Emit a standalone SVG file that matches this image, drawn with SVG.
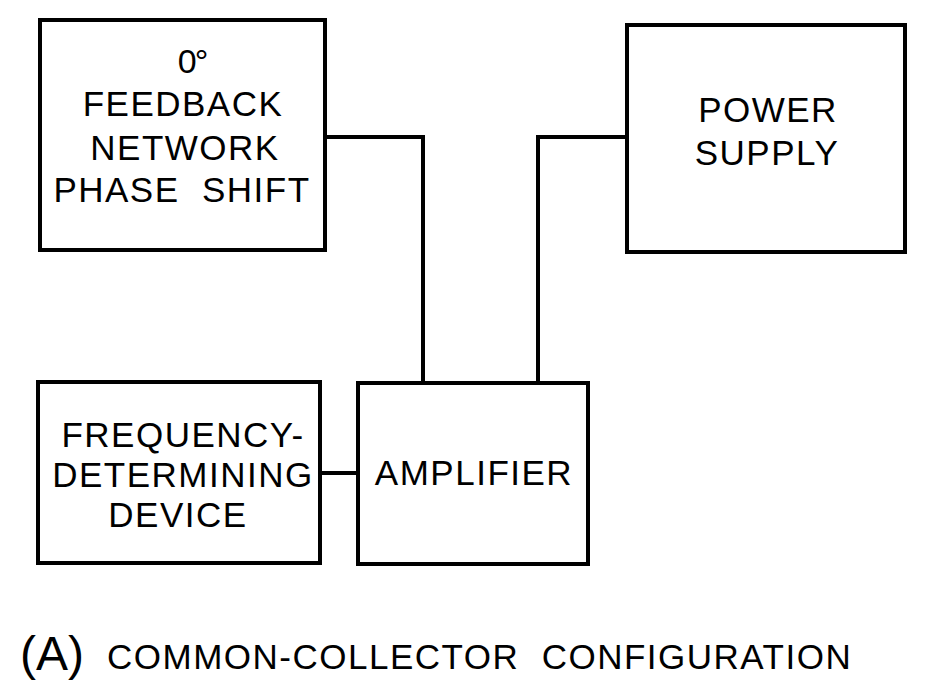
<svg xmlns="http://www.w3.org/2000/svg" width="932" height="694" viewBox="0 0 932 694">
<style>
.box{fill:#fff;stroke:#000;stroke-width:4}
.wire{fill:none;stroke:#000;stroke-width:4;stroke-linejoin:miter}
text{font-family:"Liberation Sans",Arial,sans-serif;fill:#000;text-anchor:middle}
.lbl{font-size:35px;letter-spacing:1.5px}
</style>
<rect width="932" height="694" fill="#fff"/>
<g id="connectors">
<polyline class="wire" points="325,137 423,137 423,383"/>
<polyline class="wire" points="627,137 538,137 538,383"/>
<line class="wire" x1="320" y1="473" x2="358" y2="473"/>
</g>
<g id="feedback">
<rect class="box" x="40" y="20" width="285" height="230"/>
<text x="192" y="73" style="font-size:34px;letter-spacing:-2px">0°</text>
<text class="lbl" x="183" y="116">FEEDBACK</text>
<text class="lbl" x="185" y="160">NETWORK</text>
<text class="lbl" x="182" y="202" xml:space="preserve">PHASE  SHIFT</text>
</g>
<g id="power">
<rect class="box" x="627" y="25" width="278" height="227"/>
<text class="lbl" x="768" y="122">POWER</text>
<text class="lbl" x="767" y="165">SUPPLY</text>
</g>
<g id="frequency">
<rect class="box" x="38" y="382" width="282" height="181"/>
<text class="lbl" x="183" y="447">FREQUENCY-</text>
<text class="lbl" x="183" y="487">DETERMINING</text>
<text class="lbl" x="178" y="527">DEVICE</text>
</g>
<g id="amplifier">
<rect class="box" x="358" y="383" width="230" height="181"/>
<text class="lbl" x="474" y="485">AMPLIFIER</text>
</g>
<g id="caption">
<text x="52" y="670" style="font-size:48px">(A)</text>
<text x="107" y="669" style="font-size:35px;letter-spacing:1.5px;text-anchor:start" xml:space="preserve">COMMON-COLLECTOR  CONFIGURATION</text>
</g>
</svg>
